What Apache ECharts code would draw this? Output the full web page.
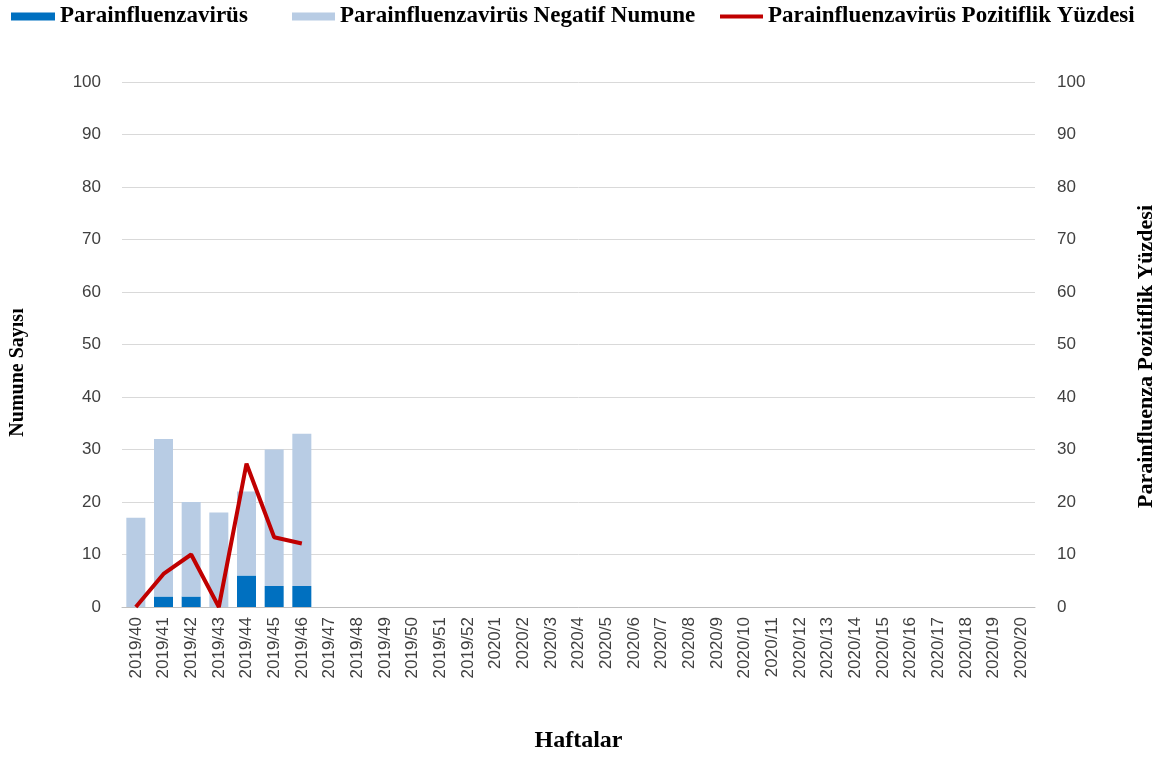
<!DOCTYPE html>
<html>
<head>
<meta charset="utf-8">
<script src="https://cdn.jsdelivr.net/npm/echarts@6/dist/echarts.min.js"></script>
<style>
  html, body { margin: 0; padding: 0; background: #fff; }
  #main { width: 1176px; height: 757px; }
</style>
</head>
<body>
<div id="main"></div>
<script>
// haftalar
var weeks = ["2019/40", "2019/41", "2019/42", "2019/43", "2019/44", "2019/45", "2019/46",
  "2019/47", "2019/48", "2019/49", "2019/50", "2019/51", "2019/52",
  "2020/1", "2020/2", "2020/3", "2020/4", "2020/5", "2020/6", "2020/7", "2020/8", "2020/9",
  "2020/10", "2020/11", "2020/12", "2020/13", "2020/14", "2020/15", "2020/16", "2020/17",
  "2020/18", "2020/19", "2020/20"];
// pozitif numune sayisi
var positive = [0, 2, 2, 0, 6, 4, 4];
// negatif numune sayisi
var negative = [17, 30, 18, 18, 16, 26, 29];
// pozitiflik yuzdesi
var percent = [0, 6.3, 10, 0, 27.3, 13.3, 12.1];

var serif = "Liberation Serif";
var sans = "Liberation Sans";

var myChart = echarts.init(document.getElementById("main"));

var legendText = { fontFamily: serif, fontWeight: "bold", fontSize: 23, color: "#000" };

var option = {
  animation: false,
  legend: [
    { data: ["Parainfluenzavirüs"], left: 6, top: 0, itemWidth: 44, itemHeight: 8,
      icon: "rect", textStyle: legendText },
    { data: ["Parainfluenzavirüs Negatif Numune"], left: 287, top: 0, itemWidth: 43, itemHeight: 8,
      icon: "rect", textStyle: legendText },
    { data: ["Parainfluenzavirüs Pozitiflik Yüzdesi"], left: 715, top: 0, itemWidth: 43, itemHeight: 4,
      icon: "rect", textStyle: legendText }
  ],
  grid: { left: 122, right: 141, top: 82, bottom: 150, outerBoundsMode: "none" },
  xAxis: {
    type: "category",
    data: weeks,
    name: "Haftalar",
    nameLocation: "middle",
    nameGap: 122,
    nameTextStyle: { fontFamily: serif, fontWeight: "bold", fontSize: 24, color: "#000" },
    axisLine: { lineStyle: { color: "#bfbfbf" } },
    axisTick: { show: false },
    axisLabel: { rotate: 90, fontFamily: sans, fontSize: 17, color: "#404040", margin: 10, interval: 0 }
  },
  yAxis: [
    {
      type: "value", min: 0, max: 100, interval: 10,
      name: "Numune Sayısı",
      nameLocation: "middle",
      nameGap: 94,
      nameRotate: 90,
      nameTextStyle: { fontFamily: serif, fontWeight: "bold", fontSize: 20, color: "#000", padding: [0, 56, 0, 0] },
      axisLabel: { fontFamily: sans, fontSize: 17, color: "#404040", margin: 21 },
      splitLine: { lineStyle: { color: "#d9d9d9" } }
    },
    {
      type: "value", min: 0, max: 100, interval: 10,
      name: "Parainfluenza Pozitiflik Yüzdesi",
      nameLocation: "middle",
      nameGap: 100,
      nameRotate: 90,
      nameTextStyle: { fontFamily: serif, fontWeight: "bold", fontSize: 22, color: "#000", padding: [0, 24, 0, 0] },
      axisLabel: { fontFamily: sans, fontSize: 17, color: "#404040", margin: 22 },
      splitLine: { show: false }
    }
  ],
  series: [
    {
      name: "Parainfluenzavirüs",
      type: "bar",
      stack: "numune",
      barWidth: 19,
      itemStyle: { color: "#0070c0" },
      data: positive
    },
    {
      name: "Parainfluenzavirüs Negatif Numune",
      type: "bar",
      stack: "numune",
      barWidth: 19,
      itemStyle: { color: "#b8cce4" },
      data: negative
    },
    {
      name: "Parainfluenzavirüs Pozitiflik Yüzdesi",
      type: "line",
      yAxisIndex: 1,
      symbol: "none",
      lineStyle: { color: "#c00000", width: 4 },
      itemStyle: { color: "#c00000" },
      data: percent
    }
  ]
};

myChart.setOption(option);
</script>
</body>
</html>
